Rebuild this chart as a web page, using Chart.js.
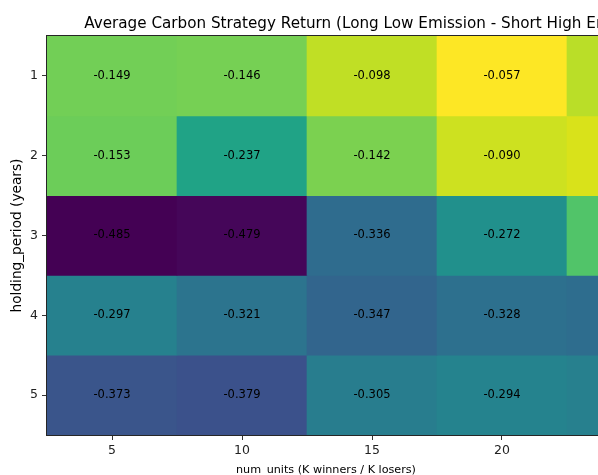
<!DOCTYPE html>
<html>
<head>
<meta charset="utf-8">
<script src="https://cdn.jsdelivr.net/npm/chart.js@4/dist/chart.umd.min.js"></script>
<style>
    html, body { margin: 0; padding: 0; background: #fff; overflow: hidden; }
    #wrap { width: 760px; height: 475px; }
</style>
</head>
<body>
<div id="wrap"><canvas id="heat" width="760" height="475"></canvas></div>
<script>
// Data (last column is cut off in the picture, so estimated from colour)
const numUnits = ['5', '10', '15', '20', '25'];
const holdingPeriods = [1, 2, 3, 4, 5];
const ret1 = [-0.149, -0.146, -0.098, -0.057, -0.102];
const ret2 = [-0.153, -0.237, -0.142, -0.090, -0.082];
const ret3 = [-0.485, -0.479, -0.336, -0.272, -0.175];
const ret4 = [-0.297, -0.321, -0.347, -0.328, -0.333];
const ret5 = [-0.373, -0.379, -0.305, -0.294, -0.300];
const returns = [ret1, ret2, ret3, ret4, ret5];

const titleText = 'Average Carbon Strategy Return (Long Low Emission - Short High Emission)';
const xLabel = 'num_units (K winners / K losers)';
const yLabel = 'holding_period (years)';

const FONT = '"DejaVu Sans", sans-serif';

// viridis, sampled every 0.05
const VIRIDIS = ['#440154', '#471365', '#482475', '#463480', '#414487', '#3b528b', '#355f8d',
    '#2f6c8e', '#2a788e', '#25848e', '#21918c', '#1e9c89', '#22a884', '#2fb47c', '#44bf70',
    '#5ec962', '#7ad151', '#9bd93c', '#bddf26', '#dfe318', '#fde725'];

function hexToRgb(h) {
    return [parseInt(h.slice(1, 3), 16), parseInt(h.slice(3, 5), 16), parseInt(h.slice(5, 7), 16)];
}

const allVals = returns.flat();
const vmin = Math.min(...allVals);
const vmax = Math.max(...allVals);

function viridis(v) {
    let f = (v - vmin) / (vmax - vmin);
    f = Math.max(0, Math.min(1, f));
    const pos = f * (VIRIDIS.length - 1);
    const i = Math.min(Math.floor(pos), VIRIDIS.length - 2);
    const t = pos - i;
    const a = hexToRgb(VIRIDIS[i]), b = hexToRgb(VIRIDIS[i + 1]);
    const c = a.map((x, k) => Math.round(x + (b[k] - x) * t));
    return `rgb(${c[0]}, ${c[1]}, ${c[2]})`;
}

// one floating-bar dataset per holding period row
const datasets = holdingPeriods.map((hp, r) => ({
    label: String(hp),
    data: numUnits.map(() => [hp - 0.5, hp + 0.5]),
    backgroundColor: returns[r].map(v => viridis(v)),
    borderWidth: 0,
    barPercentage: 1,
    categoryPercentage: 1,
    grouped: false
}));

// cell annotations, frame, title and axis labels, matplotlib style
const heatDecor = {
    id: 'heatDecor',
    afterDatasetsDraw(chart) {
        const { ctx, chartArea, scales: { x, y } } = chart;
        ctx.save();
        ctx.font = `11.5px ${FONT}`;
        ctx.fillStyle = '#000';
        ctx.textAlign = 'center';
        ctx.textBaseline = 'middle';
        holdingPeriods.forEach((hp, r) => {
            numUnits.forEach((u, c) => {
                ctx.fillText(returns[r][c].toFixed(3), x.getPixelForValue(c), y.getPixelForValue(hp));
            });
        });

        ctx.strokeStyle = '#262626';
        ctx.lineWidth = 1;
        ctx.strokeRect(chartArea.left - 0.5, chartArea.top - 0.5,
            chartArea.right - chartArea.left + 1, chartArea.bottom - chartArea.top + 1);

        ctx.fillStyle = '#000';
        ctx.font = `15.2px ${FONT}`;
        ctx.textBaseline = 'alphabetic';
        ctx.fillText(titleText, (chartArea.left + chartArea.right) / 2, 28);

        ctx.font = `11.2px ${FONT}`;
        ctx.fillText(xLabel, 326, 473);

        ctx.translate(17, (chartArea.top + chartArea.bottom) / 2);
        ctx.rotate(-Math.PI / 2);
        ctx.font = `13.7px ${FONT}`;
        ctx.textBaseline = 'middle';
        ctx.fillText(yLabel, 0, 0);
        ctx.restore();
    }
};

new Chart(document.getElementById('heat'), {
    type: 'bar',
    data: { labels: numUnits, datasets },
    options: {
        responsive: false,
        animation: false,
        layout: { padding: { left: 0, top: 36, right: 63, bottom: 0 } },
        plugins: {
            legend: { display: false },
            tooltip: { enabled: false }
        },
        scales: {
            x: {
                offset: true,
                grid: { offset: false, drawOnChartArea: false, drawTicks: true, tickLength: 5, color: '#333' },
                border: { display: false },
                ticks: { color: '#222', font: { family: FONT, size: 12.5 }, padding: 3, maxRotation: 0 },
                afterFit: s => { s.height = 40; }
            },
            y: {
                type: 'linear',
                min: 0.5,
                max: 5.5,
                reverse: true,
                afterBuildTicks: s => { s.ticks = holdingPeriods.map(v => ({ value: v })); },
                grid: { drawOnChartArea: false, drawTicks: true, tickLength: 5, color: '#333' },
                border: { display: false },
                ticks: { color: '#222', font: { family: FONT, size: 12.5 }, padding: 4 },
                afterFit: s => { s.width = 47; }
            }
        }
    },
    plugins: [heatDecor]
});
</script>
</body>
</html>
